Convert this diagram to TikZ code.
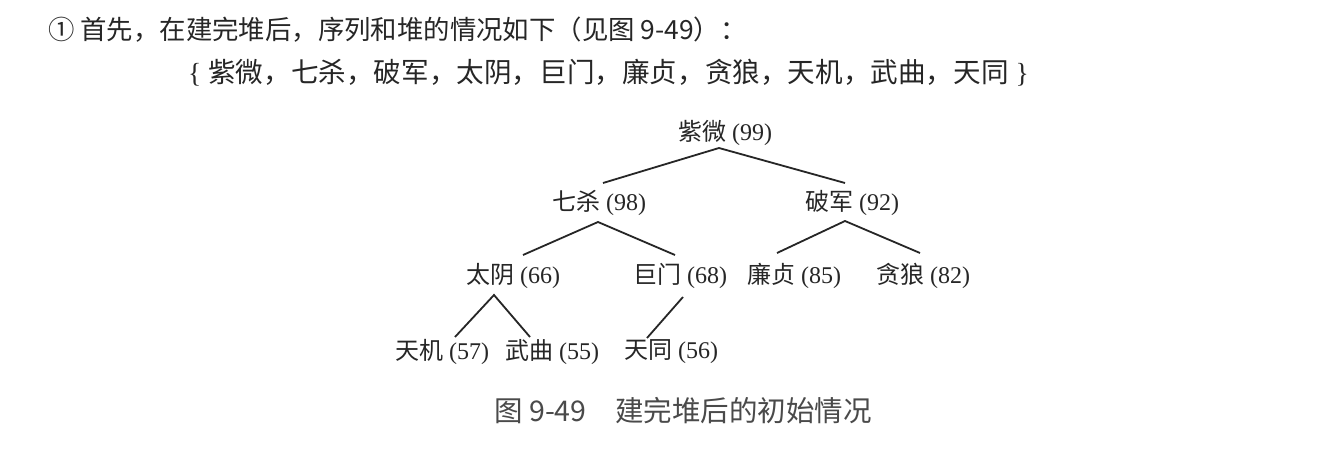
\documentclass[tikz,border=0pt]{standalone}
\usepackage{fontspec}
\setmainfont{Liberation Serif}
\newfontfamily\cjk{Noto Sans CJK SC}
\definecolor{ink}{HTML}{262626}
\definecolor{capink}{HTML}{4A4A4A}
\tikzset{
  tnode/.style={inner sep=0pt, anchor=center, text=ink, font=\fontsize{24}{28}\selectfont},
  edge/.style={draw=ink, line width=1.8pt},
  textline/.style={inner sep=0pt, anchor=west, text=ink},
}
\begin{document}
\begin{tikzpicture}[x=1pt,y=-1pt]
\useasboundingbox[fill=white] (0,0) rectangle (1327,460);
% text lines
\node[textline, font=\fontsize{26.4}{30}\selectfont\cjk] (l1) at (48,30) {① 首先，在建完堆后，序列和堆的情况如下（见图 9-49）：};
\node[textline, font=\fontsize{27.6}{31}\selectfont] (l2) at (188,73) {\{ {\cjk 紫微，七杀，破军，太阴，巨门，廉贞，贪狼，天机，武曲，天同} \}};
% tree nodes
\node[tnode] (ziwei) at (725,133) {{\cjk 紫微} (99)};
\node[tnode] (qisha) at (599,203) {{\cjk 七杀} (98)};
\node[tnode] (pojun) at (852,203) {{\cjk 破军} (92)};
\node[tnode] (taiyin) at (513,276) {{\cjk 太阴} (66)};
\node[tnode] (jumen) at (680,276) {{\cjk 巨门} (68)};
\node[tnode] (lianzhen) at (794,276) {{\cjk 廉贞} (85)};
\node[tnode] (tanlang) at (923,276) {{\cjk 贪狼} (82)};
\node[tnode] (tianji) at (442,352) {{\cjk 天机} (57)};
\node[tnode] (wuqu) at (552,352) {{\cjk 武曲} (55)};
\node[tnode] (tiantong) at (671,352) {{\cjk 天同} (56)};
% connectors
\draw[edge] ([shift={(4,-20)}]qisha.center) -- ([shift={(-6,15)}]ziwei.center) -- ([shift={(-7,-20)}]pojun.center);
\draw[edge] ([shift={(10,-21)}]taiyin.center) -- ([shift={(-1,19)}]qisha.center) -- ([shift={(-5,-21)}]jumen.center);
\draw[edge] ([shift={(-17,-23)}]lianzhen.center) -- ([shift={(-7,18)}]pojun.center) -- ([shift={(-3,-23)}]tanlang.center);
\draw[edge] ([shift={(13,-15)}]tianji.center) -- ([shift={(-19,19)}]taiyin.center) -- ([shift={(-22,-15)}]wuqu.center);
\draw[edge] ([shift={(3,21)}]jumen.center) -- ([shift={(-24,-14)}]tiantong.center);
% caption
\node[inner sep=0pt, anchor=center, text=capink, font=\fontsize{28.5}{32}\selectfont\cjk] (cap) at (683,411) {图 9-49\hspace{1em}建完堆后的初始情况};
\end{tikzpicture}
\end{document}
